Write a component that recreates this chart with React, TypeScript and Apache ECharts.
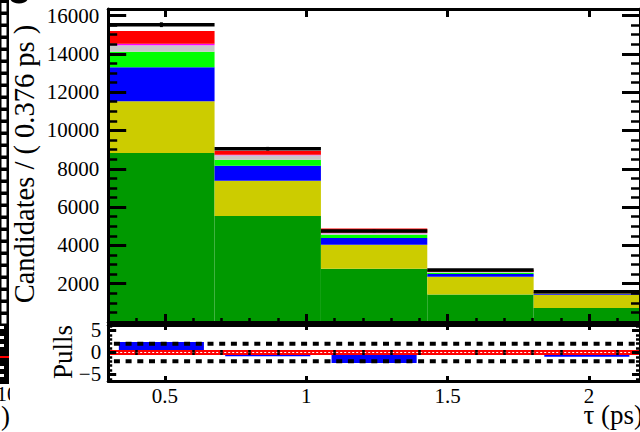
import React, { useEffect, useRef } from 'react';
import * as echarts from 'echarts';

// Decay-time histogram: bin edges in ps
const binEdges = [0.3, 0.676, 1.052, 1.428, 1.804, 2.18];

// Stacked fit components per bin (bottom to top)
const signalCounts = [8825, 5530, 2780, 1440, 730];
const yellowCounts = [2700, 1845, 1255, 925, 695];
const blueCounts = [1775, 783, 350, 141, 37];
const limeCounts = [808, 313, 172, 67, 20];
const greyCounts = [340, 235, 78, 37, 15];
const magentaCounts = [80, 30, 25, 15, 8];
const redCounts = [662, 210, 221, 105, 65];

// Observed candidates and their uncertainties
const dataCounts = [15520, 9046, 4750, 2714, 1582];
const dataErrors = [125, 95, 69, 52, 40];

// Pull per bin
const pulls = [2.4, -0.85, -2.4, -0.45, -0.95];
const pullGuides = [-2, 2];

// Tick labels
const yTickLabels = [2000, 4000, 6000, 8000, 10000, 12000, 14000, 16000];
const xTickLabels = [0.5, 1, 1.5, 2];
const pullTickLabels = [-5, 0, 5];

const FONT = '"Liberation Serif", "Times New Roman", serif';

const components = [
  { name: 'signal', values: signalCounts, color: '#009900' },
  { name: 'yellow', values: yellowCounts, color: '#cccc00' },
  { name: 'blue', values: blueCounts, color: '#0000ff' },
  { name: 'lime', values: limeCounts, color: '#00ff00' },
  { name: 'grey', values: greyCounts, color: '#c8c8c8' },
  { name: 'magenta', values: magentaCounts, color: '#ff00ff' },
  { name: 'red', values: redCounts, color: '#ff0000' },
];

function minorValues(start: number, end: number, step: number, skip: number[]) {
  const out: number[] = [];
  const n = Math.round((end - start) / step);
  for (let i = 0; i <= n; i++) {
    const v = Math.round((start + i * step) * 1000) / 1000;
    if (!skip.some((s) => Math.abs(s - v) < 1e-6)) out.push(v);
  }
  return out;
}

const xMinor = minorValues(0.3, 2.1, 0.1, xTickLabels);
const yMinor = minorValues(500, 16000, 500, yTickLabels);
const pullMinor = minorValues(-6, 6, 1, pullTickLabels);

const X_MIN = binEdges[0];
const X_MAX = binEdges[binEdges.length - 1];

function xAxisPair(gridIndex: number, position: 'top' | 'bottom', labels: boolean, majorLen: number, minorLen: number) {
  return [
    {
      type: 'value', gridIndex, position, min: X_MIN, max: X_MAX, z: 10,
      axisLine: { show: true, onZero: false, lineStyle: { color: '#000', width: 3 } },
      axisTick: { show: true, inside: true, length: majorLen, customValues: xTickLabels, lineStyle: { color: '#000', width: 3 } },
      axisLabel: labels
        ? {
            show: true, customValues: xTickLabels, margin: 4, fontFamily: FONT, fontSize: 21, color: '#000',
            formatter: (v: number) => String(v),
          }
        : { show: false },
      splitLine: { show: false },
    },
    {
      type: 'value', gridIndex, position, min: X_MIN, max: X_MAX, z: 10,
      axisLine: { show: false },
      axisTick: { show: true, inside: true, length: minorLen, customValues: xMinor, lineStyle: { color: '#000', width: 2.5 } },
      axisLabel: { show: false },
      splitLine: { show: false },
    },
  ];
}

function yAxisPair(
  gridIndex: number, position: 'left' | 'right', min: number, max: number,
  major: number[], minor: number[], majorLen: number, minorLen: number, label: any,
) {
  return [
    {
      type: 'value', gridIndex, position, min, max, z: 10,
      axisLine: { show: true, onZero: false, lineStyle: { color: '#000', width: 3 } },
      axisTick: { show: true, inside: true, length: majorLen, customValues: major, lineStyle: { color: '#000', width: 3 } },
      axisLabel: label ? { ...label, customValues: major } : { show: false },
      splitLine: { show: false },
    },
    {
      type: 'value', gridIndex, position, min, max, z: 10,
      axisLine: { show: false },
      axisTick: { show: true, inside: true, length: minorLen, customValues: minor, lineStyle: { color: '#000', width: 2.5 } },
      axisLabel: { show: false },
      splitLine: { show: false },
    },
  ];
}

function buildOption() {
  const nBins = dataCounts.length;

  // cumulative stack
  const lower = new Array(nBins).fill(0);
  const stackSeries = components.map((c) => {
    const data = c.values.map((v, i) => {
      const lo = lower[i];
      lower[i] = lo + v;
      return [binEdges[i], binEdges[i + 1], lo, lo + v];
    });
    return {
      type: 'custom', name: c.name, xAxisIndex: 0, yAxisIndex: 0, z: 2, clip: true,
      encode: { x: [0, 1], y: [2, 3] },
      data,
      renderItem: (params: any, api: any) => {
        const p0 = api.coord([api.value(0), api.value(3)]);
        const p1 = api.coord([api.value(1), api.value(2)]);
        return {
          type: 'rect',
          shape: { x: p0[0], y: p0[1], width: p1[0] - p0[0], height: p1[1] - p0[1] },
          style: { fill: c.color },
        };
      },
    };
  });

  const dataSeries = {
    type: 'custom', name: 'data', xAxisIndex: 0, yAxisIndex: 0, z: 6, clip: true,
    encode: { x: [0, 1], y: 2 },
    data: dataCounts.map((v, i) => [binEdges[i], binEdges[i + 1], v, dataErrors[i]]),
    renderItem: (params: any, api: any) => {
      const x0 = api.value(0), x1 = api.value(1), v = api.value(2), e = api.value(3);
      const a = api.coord([x0, v]);
      const b = api.coord([x1, v]);
      const c = api.coord([(x0 + x1) / 2, v + e]);
      const d = api.coord([(x0 + x1) / 2, v - e]);
      return {
        type: 'group',
        children: [
          { type: 'line', shape: { x1: a[0], y1: a[1], x2: b[0], y2: b[1] }, style: { stroke: '#000', lineWidth: 3.5 } },
          { type: 'line', shape: { x1: c[0], y1: c[1], x2: d[0], y2: d[1] }, style: { stroke: '#000', lineWidth: 3 } },
        ],
      };
    },
  };

  const pullSeries = {
    type: 'custom', name: 'pulls', xAxisIndex: 4, yAxisIndex: 4, z: 2, clip: true,
    encode: { x: [0, 1], y: 2 },
    data: pulls.map((p, i) => {
      const w = binEdges[i + 1] - binEdges[i];
      return [binEdges[i] + 0.1 * w, binEdges[i + 1] - 0.1 * w, p];
    }),
    renderItem: (params: any, api: any) => {
      const p0 = api.coord([api.value(0), Math.max(api.value(2), 0)]);
      const p1 = api.coord([api.value(1), Math.min(api.value(2), 0)]);
      return {
        type: 'rect',
        shape: { x: p0[0], y: p0[1], width: p1[0] - p0[0], height: p1[1] - p0[1] },
        style: { fill: '#0000ff' },
      };
    },
  };

  const guideSeries = pullGuides.map((g) => ({
    type: 'line', xAxisIndex: 4, yAxisIndex: 4, z: 3, showSymbol: false, silent: true,
    data: [[X_MIN, g], [X_MAX, g]],
    lineStyle: { color: '#000', width: 4, type: [6, 5.7], dashOffset: 6 },
  }));

  const zeroLine = {
    type: 'line', xAxisIndex: 4, yAxisIndex: 4, z: 4, showSymbol: false, silent: true,
    data: [[X_MIN, 0], [X_MAX, 0]],
    lineStyle: { color: '#ff0000', width: 5 },
  };
  const zeroDots = {
    type: 'line', xAxisIndex: 4, yAxisIndex: 4, z: 5, showSymbol: false, silent: true,
    data: [[X_MIN, 0], [X_MAX, 0]],
    lineStyle: { color: '#ffffff', width: 1, type: [2, 2] },
  };

  const yLabel = {
    show: true, margin: 9, fontFamily: FONT, fontSize: 21, color: '#000',
    formatter: (v: number) => String(v),
  };
  const pullLabel = {
    show: true, margin: 7, fontFamily: FONT, fontSize: 21, color: '#000',
    showMinLabel: true, showMaxLabel: true, hideOverlap: false,
    formatter: (v: number) => (v < 0 ? '\u2212' + Math.abs(v) : String(v)),
  };

  // decorative strip of the neighbouring pad on the left
  const strip: any[] = [
    { type: 'rect', shape: { x: 0, y: 0, width: 9, height: 384 }, style: { fill: '#000' } },
  ];
  for (let y = 3; y < 316; y += 12) {
    strip.push({ type: 'rect', shape: { x: 1.5, y, width: 5, height: 8.5 }, style: { fill: '#fff' } });
  }
  [326, 336, 344, 366, 374].forEach((y) => {
    strip.push({ type: 'rect', shape: { x: 0, y, width: 4, height: 3 }, style: { fill: '#fff' } });
  });
  strip.push({ type: 'line', shape: { x1: 0, y1: 357, x2: 9, y2: 357 }, style: { stroke: '#ff0000', lineWidth: 2 } });
  strip.push({ type: 'text', x: -3.5, y: 394, style: { text: '10', font: `21px ${FONT}`, fill: '#000', align: 'left', verticalAlign: 'middle' } });
  strip.push({ type: 'rect', shape: { x: 10, y: 384, width: 30, height: 48 }, style: { fill: '#fff' } });
  strip.push({ type: 'text', x: 1, y: 416, style: { text: ')', font: `27px ${FONT}`, fill: '#000', align: 'left', verticalAlign: 'middle' } });
  strip.push({ type: 'ellipse', shape: { cx: 19, cy: -2, rx: 9, ry: 5.5 }, style: { fill: '#000' } });

  return {
    animation: false,
    backgroundColor: '#ffffff',
    grid: [
      { left: 108.2, top: 9, width: 533.8, height: 313, containLabel: false },
      { left: 108.2, top: 325, width: 533.8, height: 56, containLabel: false },
    ],
    xAxis: [
      ...xAxisPair(0, 'bottom', false, 8, 4),
      ...xAxisPair(0, 'top', false, 8, 4),
      ...xAxisPair(1, 'bottom', true, 5, 2.5),
      ...xAxisPair(1, 'top', false, 5, 2.5),
    ],
    yAxis: [
      ...yAxisPair(0, 'left', 0, 16340, yTickLabels, yMinor, 18, 9, yLabel),
      ...yAxisPair(0, 'right', 0, 16340, yTickLabels, yMinor, 18, 9, null),
      ...yAxisPair(1, 'left', -6.48, 6.25, pullTickLabels, pullMinor, 8, 4, pullLabel),
      ...yAxisPair(1, 'right', -6.48, 6.25, pullTickLabels, pullMinor, 8, 4, null),
    ],
    series: [...stackSeries, dataSeries, pullSeries, ...guideSeries, zeroLine, zeroDots],
    graphic: [
      ...strip,
      {
        type: 'text', x: 24, y: 164, rotation: Math.PI / 2, z: 20,
        style: { text: 'Candidates / ( 0.376 ps )', font: `28.5px ${FONT}`, fill: '#000', align: 'center', verticalAlign: 'middle' },
      },
      {
        type: 'text', x: 63, y: 352, rotation: Math.PI / 2, z: 20,
        style: { text: 'Pulls', font: `27px ${FONT}`, fill: '#000', align: 'center', verticalAlign: 'middle' },
      },
      {
        type: 'text', x: 643, y: 415, z: 20,
        style: { text: 'τ (ps)', font: `27px ${FONT}`, fill: '#000', align: 'right', verticalAlign: 'middle' },
      },
    ],
  };
}

export default function App() {
  const ref = useRef<HTMLDivElement>(null);
  useEffect(() => {
    if (!ref.current) return;
    const chart = echarts.init(ref.current, undefined, { renderer: 'svg' });
    chart.setOption(buildOption() as any);
    return () => chart.dispose();
  }, []);
  return (
    <div
      ref={ref}
      style={{ position: 'fixed', left: 0, top: 0, width: 640, height: 432, background: '#fff' }}
    />
  );
}
